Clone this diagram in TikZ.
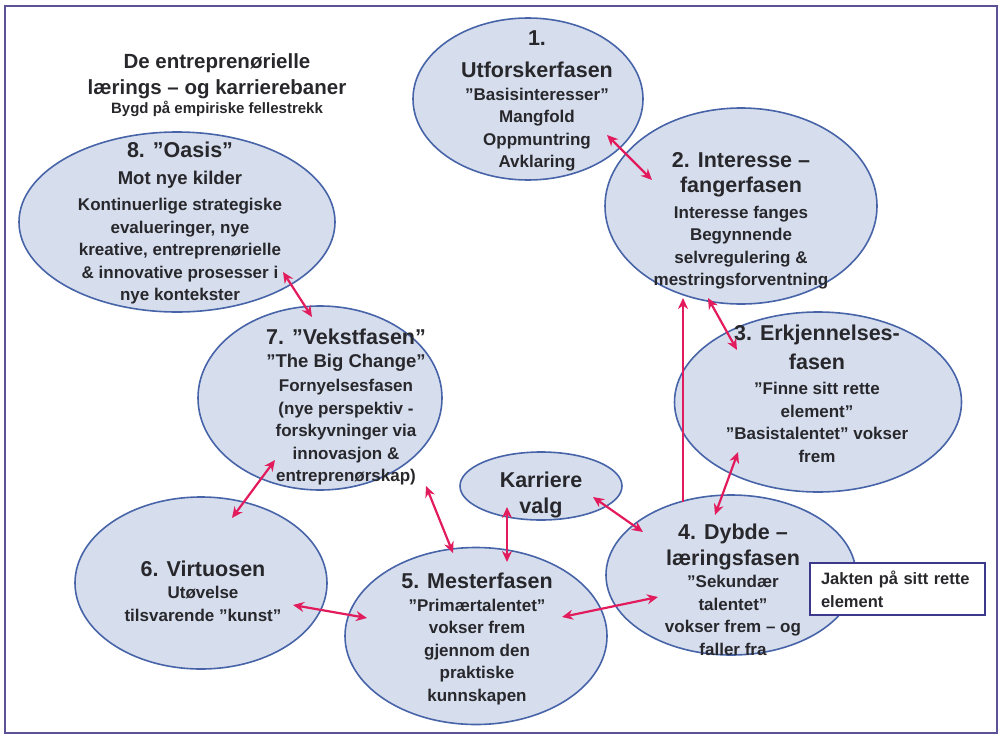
\documentclass[tikz,border=0pt]{standalone}
\usepackage{fontspec}
\setmainfont{Liberation Sans}
\usepackage{xcolor}
\usetikzlibrary{arrows.meta,positioning,shapes.geometric}

\definecolor{phasefill}{RGB}{214,222,238}
\definecolor{phaseline}{RGB}{72,100,168}
\definecolor{arrowred}{RGB}{226,28,92}
\definecolor{textdark}{RGB}{40,40,44}
\definecolor{framecol}{RGB}{92,82,150}
\definecolor{boxline}{RGB}{60,56,140}

\newcommand{\phhead}{\fontsize{21.5}{26}\selectfont}
\newcommand{\phsub}{\fontsize{18.5}{22}\selectfont}
\newcommand{\phbody}{\fontsize{17}{22.5}\selectfont}

\begin{document}
\begin{tikzpicture}[
    x=1pt, y=-1pt,
    phase/.style={ellipse, draw=phaseline, fill=phasefill, line width=1.6pt, inner sep=0pt},
    phasetext/.style={align=center, text=textdark, font=\bfseries\phbody, inner sep=0pt},
    darrow/.style={{Stealth[length=11pt,width=10pt]}-{Stealth[length=11pt,width=10pt]}, line width=2.2pt, draw=arrowred},
    arrow/.style={-{Stealth[length=11pt,width=10pt]}, line width=2.2pt, draw=arrowred},
    notebox/.style={draw=boxline, fill=white, line width=1.8pt, align=left, text width=153pt, inner xsep=11pt, minimum height=52pt, text=textdark, font=\bfseries\fontsize{16.5}{23}\selectfont}
]
    \useasboundingbox (0,0) rectangle (1003,736);
    \draw[framecol, line width=1.6pt] (5,6) rectangle (997,733);

    % Title
    \node[align=center, text=textdark, inner sep=0pt, font=\bfseries\fontsize{20.5}{26}\selectfont] (title) at (217,85)
        {De entreprenørielle\\lærings – og karrierebaner\\[-7pt]{\fontsize{15}{19}\selectfont Bygd på empiriske fellestrekk}};

    % Phases
    \node[phase, minimum width=230pt, minimum height=162pt] (e1) at (528,99) {};
    \node[phase, minimum width=272pt, minimum height=196pt] (e2) at (741,206) {};
    \node[phase, minimum width=287pt, minimum height=180pt] (e3) at (818,402) {};
    \node[phase, minimum width=250pt, minimum height=160pt] (e4) at (731,575) {};
    \node[phase, minimum width=162pt, minimum height=68pt] (ek) at (541,486) {};
    \node[phase, minimum width=262pt, minimum height=177pt] (e5) at (476,636) {};
    \node[phase, minimum width=252pt, minimum height=172pt] (e6) at (201,583) {};
    \node[phase, minimum width=244pt, minimum height=184pt] (e7) at (320,398) {};
    \node[phase, minimum width=316pt, minimum height=180pt] (e8) at (177,222) {};

    % Phase texts
    \node[phasetext] (t1) at (537,101) {{\phhead 1.}\\[10pt]{\phhead Utforskerfasen}\\”Basisinteresser”\\Mangfold\\Oppmuntring\\Avklaring};
    \node[phasetext] (t2) at (741,221) {{\phhead 2. Interesse –}\\[3pt]{\phhead fangerfasen}\\[3pt]Interesse fanges\\Begynnende\\selvregulering \&\\mestringsforventning};
    \node[phasetext] (t3) at (817,394) {{\phhead 3. Erkjennelses-}\\[6pt]{\phhead fasen}\\[3pt]”Finne sitt rette\\element”\\”Basistalentet” vokser\\frem};
    \node[phasetext] (t4) at (733,590) {{\phhead 4. Dybde –}\\[3pt]{\phhead læringsfasen}\\”Sekundær\\talentet”\\vokser frem – og\\faller fra};
    \node[phasetext] (tk) at (541,495) {{\phhead Karriere}\\[4pt]{\phhead valg}};
    \node[phasetext] (t5) at (477,639) {{\phhead 5. Mesterfasen}\\”Primærtalentet”\\vokser frem\\gjennom den\\praktiske\\kunnskapen};
    \node[phasetext] (t6) at (203,591) {{\phhead 6. Virtuosen}\\Utøvelse\\tilsvarende ”kunst”};
    \node[phasetext] (t7) at (346,407) {{\phhead 7. ”Vekstfasen”}\\{\phsub ”The Big Change”}\\[2pt]Fornyelsesfasen\\(nye perspektiv -\\forskyvninger via\\innovasjon \&\\entreprenørskap)};
    \node[phasetext] (t8) at (180,223) {{\phhead 8. ”Oasis”}\\[4pt]{\phsub Mot nye kilder}\\[4pt]Kontinuerlige strategiske\\evalueringer, nye\\kreative, entreprenørielle\\\& innovative prosesser i\\nye kontekster};

    % Note
    \node[notebox] (jakt) at (897.5,589) {Jakten på sitt rette\\element};

    % Connector ends
    \coordinate (c1a) at (607,135); \coordinate (c1b) at (652,180);
    \coordinate (c2a) at (708,298); \coordinate (c2b) at (737,350);
    \coordinate (c4up) at (683,502); \coordinate (c2up) at (683,298);
    \coordinate (c3a) at (738,452); \coordinate (c3b) at (715,515);
    \coordinate (cka) at (593,497); \coordinate (ckb) at (643,532);
    \coordinate (c4a) at (658,597); \coordinate (c4b) at (562,617);
    \coordinate (ckc) at (507,507); \coordinate (ckd) at (507,562);
    \coordinate (c6a) at (293,605); \coordinate (c6b) at (367,618);
    \coordinate (c7a) at (426,486); \coordinate (c7b) at (453,553);
    \coordinate (c7c) at (275,460); \coordinate (c7d) at (232,518);
    \coordinate (c8a) at (283,272); \coordinate (c8b) at (312,317);

    % Connectors
    \draw[darrow] (c1a) -- (c1b);
    \draw[darrow] (c2a) -- (c2b);
    \draw[arrow] (c4up) -- (c2up);
    \draw[darrow] (c3a) -- (c3b);
    \draw[darrow] (cka) -- (ckb);
    \draw[darrow] (c4a) -- (c4b);
    \draw[darrow] (ckc) -- (ckd);
    \draw[darrow] (c6a) -- (c6b);
    \draw[darrow] (c7a) -- (c7b);
    \draw[darrow] (c7c) -- (c7d);
    \draw[darrow] (c8a) -- (c8b);

\end{tikzpicture}
\end{document}
